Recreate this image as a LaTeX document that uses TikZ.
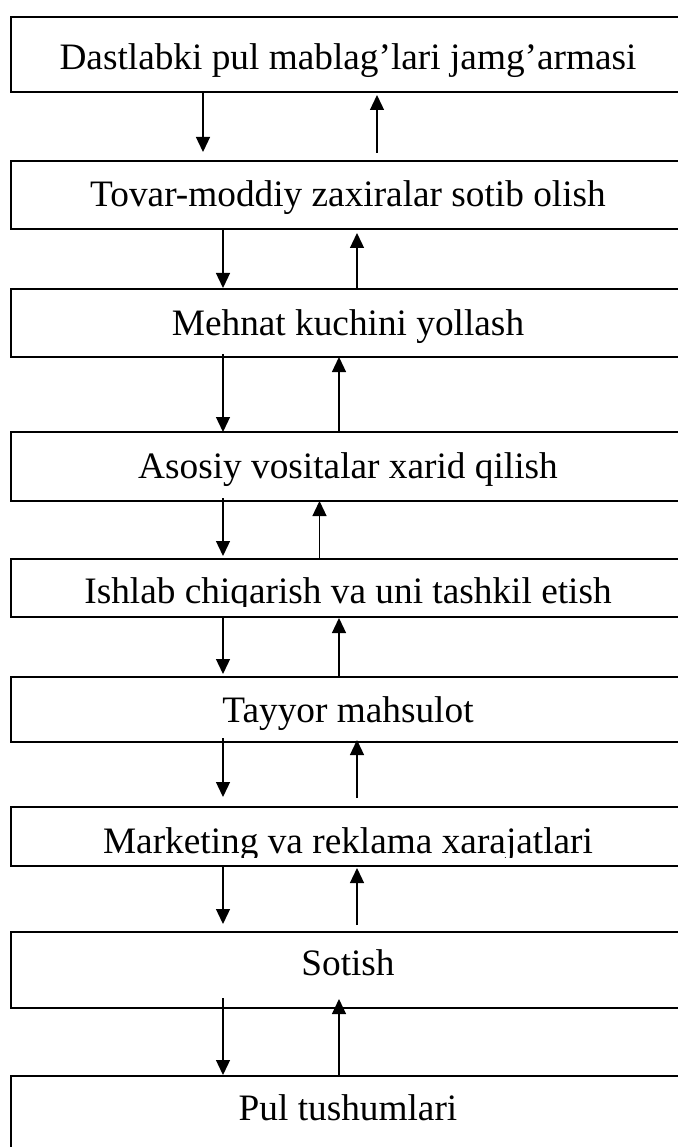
\documentclass[tikz,border=0pt]{standalone}
\usepackage{fontspec}
\setmainfont{Liberation Serif}
\usetikzlibrary{arrows.meta}

\tikzset{
  box/.style={draw=black, line width=2pt, rectangle, outer sep=0pt,
              inner sep=0pt, minimum width=679pt},
  label/.style={anchor=base, inner sep=0pt, outer sep=0pt,
                font=\fontsize{37.3}{40}\selectfont},
  flow/.style={line width=1.3pt, -{Triangle[length=15pt,width=14pt]}}
}

\begin{document}
\begin{tikzpicture}[x=1pt, y=-1pt]
\useasboundingbox[fill=white] (0,0) rectangle (677,1147);

% stage boxes (right side and last box run past the page edge)
\node[box, minimum height=75pt] (b1) at (350.5,54.5)  {};
\node[box, minimum height=68pt] (b2) at (350.5,195)   {};
\node[box, minimum height=68pt] (b3) at (350.5,323)   {};
\node[box, minimum height=69pt] (b4) at (350.5,466.5) {};
\node[box, minimum height=58pt] (b5) at (350.5,588)   {};
\node[box, minimum height=65pt] (b6) at (350.5,709.5) {};
\node[box, minimum height=59pt] (b7) at (350.5,836.5) {};
\node[box, minimum height=76pt] (b8) at (350.5,970)   {};
\node[box, minimum height=94pt] (b9) at (350.5,1123)  {};

% captions
\node[label] (t1) at (348,70)  {Dastlabki pul mablag’lari jamg’armasi};
\node[label] (t2) at (348,207) {Tovar-moddiy zaxiralar sotib olish};
\node[label] (t3) at (348,335) {Mehnat kuchini yollash};
\node[label] (t4) at (348,478) {Asosiy vositalar xarid qilish};
\begin{scope}
  \clip (b5.north west) rectangle ([yshift=11pt]b5.south east);
  \node[label] (t5) at (348,603) {Ishlab chiqarish va uni tashkil etish};
\end{scope}
\node[label] (t6) at (348,722) {Tayyor mahsulot};
\begin{scope}
  \clip (b7.north west) rectangle ([yshift=9pt]b7.south east);
  \node[label] (t7) at (348,853) {Marketing va reklama xarajatlari};
\end{scope}
\node[label] (t8) at (348,975)  {Sotish};
\node[label] (t9) at (348,1120) {Pul tushumlari};

% downward flow
\draw[flow] ([xshift=-147.5pt,yshift=-1pt]b1.south) -- ([xshift=-147.5pt,yshift=9pt]b2.north);
\draw[flow] ([xshift=-127.5pt,yshift=-1pt]b2.south) -- ([xshift=-127.5pt,yshift=1pt]b3.north);
\draw[flow] ([xshift=-127.5pt,yshift=3pt]b3.south)  -- ([xshift=-127.5pt]b4.north);
\draw[flow] ([xshift=-127.5pt,yshift=3pt]b4.south)  -- ([xshift=-127.5pt,yshift=3pt]b5.north);
\draw[flow] ([xshift=-127.5pt]b5.south)             -- ([xshift=-127.5pt,yshift=3pt]b6.north);
\draw[flow] ([xshift=-127.5pt,yshift=4pt]b6.south)  -- ([xshift=-127.5pt,yshift=10pt]b7.north);
\draw[flow] ([xshift=-127.5pt,yshift=-1pt]b7.south) -- ([xshift=-127.5pt,yshift=8pt]b8.north);
\draw[flow] ([xshift=-127.5pt,yshift=10pt]b8.south) -- ([xshift=-127.5pt,yshift=1pt]b9.north);

% upward flow
\draw[flow] ([xshift=26.5pt,yshift=8pt]b2.north)  -- ([xshift=26.5pt,yshift=-3pt]b1.south);
\draw[flow] ([xshift=6.5pt,yshift=1pt]b3.north)   -- ([xshift=6.5pt,yshift=-4pt]b2.south);
\draw[flow] ([xshift=-11.5pt]b4.north)            -- ([xshift=-11.5pt]b3.south);
\draw[flow] ([xshift=-31pt,yshift=1pt]b5.north)   -- ([xshift=-31pt]b4.south);
\draw[flow] ([xshift=-11.5pt,yshift=1pt]b6.north) -- ([xshift=-11.5pt,yshift=-1pt]b5.south);
\draw[flow] ([xshift=6.5pt,yshift=9pt]b7.north)   -- ([xshift=6.5pt,yshift=2pt]b6.south);
\draw[flow] ([xshift=6.5pt,yshift=7pt]b8.north)   -- ([xshift=6.5pt,yshift=-2pt]b7.south);
\draw[flow] ([xshift=-11.5pt,yshift=1pt]b9.north) -- ([xshift=-11.5pt,yshift=9pt]b8.south);
\end{tikzpicture}
\end{document}
